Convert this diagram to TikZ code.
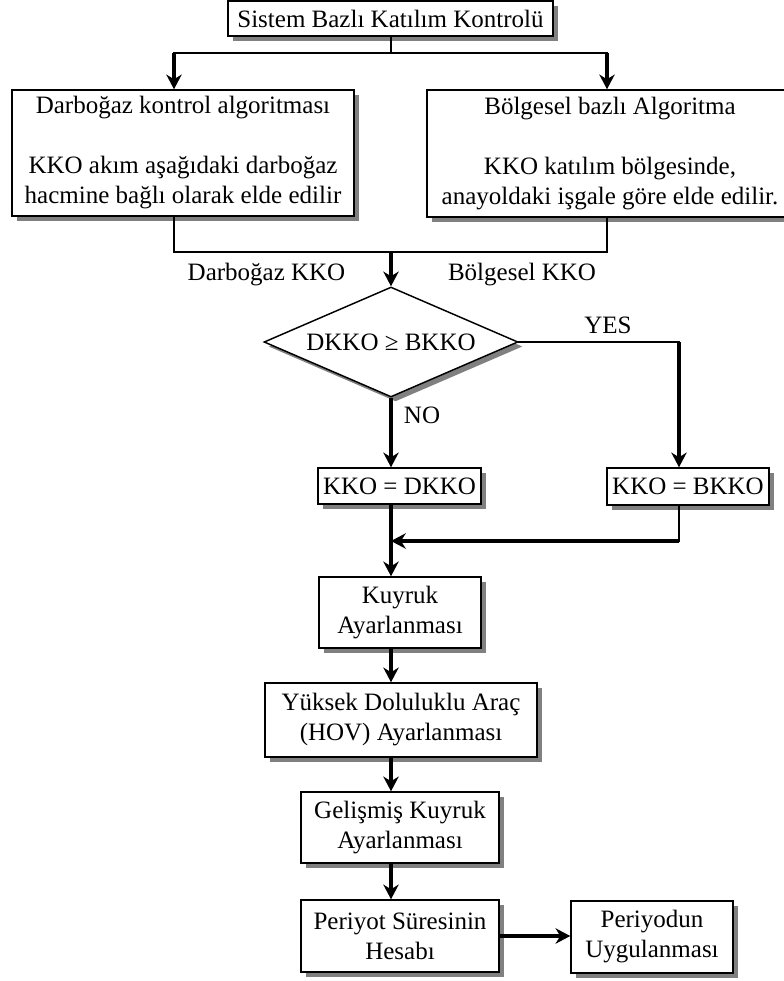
\documentclass[tikz,border=0pt]{standalone}
\usepackage{fontspec}
\setmainfont{Liberation Serif}
\usetikzlibrary{shapes.geometric,arrows.meta}
\begin{document}
\begin{tikzpicture}[x=0.75pt,y=-0.75pt,
  font=\fontsize{18.75}{22.5}\selectfont,
  shad/.style={preaction={fill=gray,draw=none,transform canvas={xshift=3.4pt,yshift=-3.4pt}}},
  box/.style={draw,rectangle,line width=1.1pt,fill=white,inner sep=0pt,align=center,shad},
  dec/.style={draw,diamond,aspect=2.3,line width=1.1pt,fill=white,inner sep=0pt,shad},
  thinl/.style={line width=1.1pt,line cap=rect},
  arr/.style={line width=2.3pt,-{Stealth[length=11pt,width=11.5pt,inset=3.5pt]}},
  lbl/.style={anchor=base,inner sep=0pt}]
\useasboundingbox (0,0) rectangle (783,981);

% boxes
\node[box,minimum width=243.75pt,minimum height=26.25pt] (top) at (390.5,18.5) {Sistem Bazlı Katılım Kontrolü};
\node[box,minimum width=256.5pt,minimum height=94.5pt] (dark) at (183,153) {Darboğaz kontrol algoritması\\[22.5pt]KKO akım aşağıdaki darboğaz\\hacmine bağlı olarak elde edilir};
\node[box,minimum width=274.5pt,minimum height=95.25pt] (bolg) at (610,153.5) {Bölgesel bazlı Algoritma\\[22.5pt]KKO katılım bölgesinde,\\anayoldaki işgale göre elde edilir.};
\node[dec,minimum width=190.5pt,minimum height=82.5pt] (dia) at (391,342) {DKKO ≥ BKKO};
\node[box,minimum width=122.25pt,minimum height=27pt] (kd) at (399.5,486) {KKO = DKKO};
\node[box,minimum width=121.5pt,minimum height=27.75pt] (kb) at (688,486.5) {KKO = BKKO};
\node[box,minimum width=121.5pt,minimum height=53.25pt] (kuy) at (400,612.5) {Kuyruk\\Ayarlanması};
\node[box,minimum width=204pt,minimum height=55.5pt] (hov) at (401,720) {Yüksek Doluluklu Araç\\(HOV) Ayarlanması};
\node[box,minimum width=148.5pt,minimum height=53.25pt] (gel) at (400,827.5) {Gelişmiş Kuyruk\\Ayarlanması};
\node[box,minimum width=148.5pt,minimum height=54pt] (per) at (400,936) {Periyot Süresinin\\Hesabı};
\node[box,minimum width=121.5pt,minimum height=54pt] (uyg) at (652,937) {Periyodun\\Uygulanması};

% labels
\node[lbl] (ldk) at (266.5,280) {Darboğaz KKO};
\node[lbl] (lbk) at (522,280) {Bölgesel KKO};
\node[lbl] (lyes) at (608,333) {YES};
\node[lbl] (lno) at (422,423) {NO};

% junction points
\coordinate (s1) at (391,53);
\coordinate (sL) at (174,53);
\coordinate (sR) at (607,53);
\coordinate (jL) at (174,252);
\coordinate (jR) at (607,252);
\coordinate (j) at (391,252);
\coordinate (yes) at (679,342);
\coordinate (m) at (391,541);
\coordinate (mR) at (679,541);

% connectors
\draw[thinl] (top.south -| s1) -- (s1);
\draw[thinl] (sL) -- (sR);
\draw[arr] (sL) -- (dark.north -| sL);
\draw[arr] (sR) -- (bolg.north -| sR);
\draw[thinl] (dark.south -| jL) -- (jL) -- (jR) -- (bolg.south -| jR);
\draw[arr] (j) -- (dia.north);
\draw[thinl] (dia.east) -- (yes);
\draw[arr] (yes) -- (kb.north -| yes);
\draw[arr] (dia.south) -- (kd.north -| dia.south);
\draw[arr] (kd.south -| m) -- (kuy.north -| m);
\draw[thinl] (kb.south -| mR) -- (mR);
\draw[arr] (mR) -- (m);
\draw[arr] (kuy.south -| m) -- (hov.north -| m);
\draw[arr] (hov.south -| m) -- (gel.north -| m);
\draw[arr] (gel.south -| m) -- (per.north -| m);
\draw[arr] (per.east) -- (uyg.west |- per.east);
\end{tikzpicture}
\end{document}
